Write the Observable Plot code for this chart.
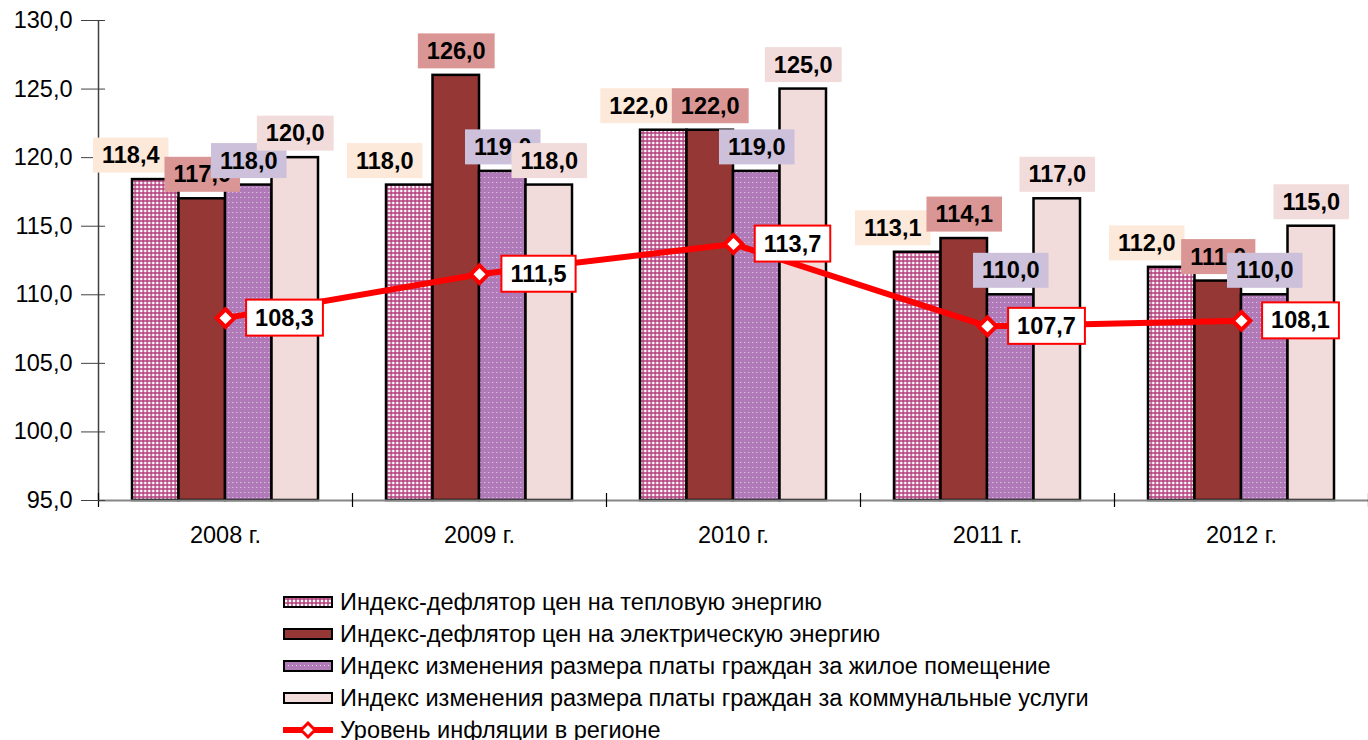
<!DOCTYPE html>
<html><head><meta charset="utf-8">
<script src="https://cdn.jsdelivr.net/npm/d3@7"></script>
<script src="https://cdn.jsdelivr.net/npm/@observablehq/plot@0.6"></script>
<style>
body{margin:0;background:#fff;font-family:"Liberation Sans",Arial,sans-serif;}
#chart svg{display:block}
#legend{padding-left:283px;margin-top:26px;}
.item{display:flex;align-items:center;height:32px;font-size:23.5px;color:#000;white-space:nowrap}
.item svg{margin-right:7px;flex:none}
</style></head><body>
<div id="chart"></div><div id="legend"></div>
<script>
const years = ["2008 г.","2009 г.","2010 г.","2011 г.","2012 г."];
const heat = [118.4,118.0,122.0,113.1,112.0];
const elec = [117.0,126.0,122.0,114.1,111.0];
const housing = [118.0,119.0,119.0,110.0,110.0];
const communal = [120.0,118.0,125.0,117.0,115.0];
const inflation = [108.3,111.5,113.7,107.7,108.1];
const yTicks = [95,100,105,110,115,120,125,130];
const seriesNames = [
  "Индекс-дефлятор цен на тепловую энергию",
  "Индекс-дефлятор цен на электрическую энергию",
  "Индекс изменения размера платы граждан за жилое помещение",
  "Индекс изменения размера платы граждан за коммунальные услуги",
  "Уровень инфляции в регионе"
];

const fmt = v => d3.format(".1f")(v).replace(".", ",");
const rows = years.map((year,i)=>({year, heat:heat[i], elec:elec[i], housing:housing[i], communal:communal[i], inflation:inflation[i]}));

const W = 1368, H = 560, ML = 98, MR = 0, MT = 20, MB = 60;
const BAND = (W-ML-MR)/years.length;
const BW = 46.5, INSET = (BAND-BW)/2;
const FS = 23.5;
const styles = [
  {key:"heat", fill:"url(#pHeat)", box:"#fde9d9", ldx:-25},
  {key:"elec", fill:"#953735", box:"#da9694", ldx:0},
  {key:"housing", fill:"url(#pHousing)", box:"#ccc0da", ldx:0},
  {key:"communal", fill:"#f2dcdb", box:"#f2dcdb", ldx:0}
];

const marks = [];
styles.forEach((s,k)=>marks.push(Plot.barY(rows,{x:"year", y1:95, y2:s.key, fill:s.fill, stroke:"#000", strokeWidth:2.5, insetLeft:INSET, insetRight:INSET, dx:(k-1.5)*BW})));
marks.push(Plot.ruleY([95],{stroke:"#868686", strokeWidth:2}));
marks.push(Plot.ruleX([years[0]],{y1:95, y2:130, dx:-BAND/2, stroke:"#404040", strokeWidth:1.5}));
marks.push(Plot.ruleX(years,{y1:95, y2:95, insetTop:-7, insetBottom:-7, dx:-BAND/2, stroke:"#000", strokeWidth:1.2}));
marks.push(Plot.ruleX([years[years.length-1]],{y1:95, y2:95, insetTop:-7, insetBottom:-7, dx:BAND/2, stroke:"#000", strokeWidth:1.2}));
marks.push(Plot.axisY({ticks:yTicks, tickFormat:fmt, tickSize:24, tickPadding:9, dx:7, label:null, fontSize:FS, stroke:"#404040"}));
marks.push(Plot.axisX({tickSize:0, tickPadding:26, label:null, fontSize:FS}));
marks.push(Plot.line(rows,{x:"year", y:"inflation", stroke:"#ff0000", strokeWidth:6}));
marks.push(Plot.dot(rows,{x:"year", y:"inflation", symbol:"diamond2", r:8, fill:"#fff", stroke:"#ff0000", strokeWidth:4}));
styles.forEach((s,k)=>marks.push(Plot.text(rows,{x:"year", y:s.key, text:d=>fmt(d[s.key]), dx:(k-1.5)*BW + s.ldx, dy:-24, fontSize:FS, fontWeight:"bold", fill:"#000"})));
marks.push(Plot.text(rows,{x:"year", y:"inflation", text:d=>fmt(d.inflation), dx:59, fontSize:FS, fontWeight:"bold", fill:"#000"}));

const chart = Plot.plot({
  width:W, height:H, marginLeft:ML, marginRight:MR, marginTop:MT, marginBottom:MB,
  style:{fontFamily:"'Liberation Sans', Arial, sans-serif", fontSize:FS+"px", color:"#000", background:"#fff", overflow:"visible"},
  x:{domain:years, padding:0},
  y:{domain:[95,130]},
  marks
});
document.getElementById("chart").appendChild(chart);

const NS = "http://www.w3.org/2000/svg";
const defs = document.createElementNS(NS,"defs");
defs.innerHTML = `
<pattern id="pHeat" width="4" height="4" patternUnits="userSpaceOnUse">
  <rect width="4" height="4" fill="#fff"/>
  <rect x="0" y="0" width="2" height="4" fill="#b23c7c" fill-opacity="0.75"/>
  <rect x="0" y="0" width="4" height="2" fill="#b23c7c" fill-opacity="0.75"/>
</pattern>
<pattern id="pHousing" width="4" height="5" patternUnits="userSpaceOnUse">
  <rect width="4" height="5" fill="#b07ab8"/>
  <rect x="1" y="2" width="1" height="1" fill="#ead4ee"/>
</pattern>`;
chart.insertBefore(defs, chart.firstChild);

const boxStyles = [...styles.map(s=>({fill:s.box, stroke:"none", sw:0, px:9, py:4.5})), {fill:"#fff", stroke:"#ff0000", sw:2, px:9, py:5}];
const groups = [...chart.querySelectorAll('g[aria-label="text"]')];
groups.forEach((g,gi)=>{
  const st = boxStyles[gi];
  g.querySelectorAll("text").forEach(t=>{
    const b = t.getBBox();
    const r = document.createElementNS(NS,"rect");
    r.setAttribute("x", b.x-st.px); r.setAttribute("y", b.y-st.py);
    r.setAttribute("width", b.width+2*st.px); r.setAttribute("height", b.height+2*st.py);
    r.setAttribute("fill", st.fill); r.setAttribute("stroke", st.stroke); r.setAttribute("stroke-width", st.sw);
    if (t.getAttribute("transform")) r.setAttribute("transform", t.getAttribute("transform"));
    g.insertBefore(r, t);
  });
});

const legend = document.getElementById("legend");
const swatchFills = ["url(#pHeat)","#953735","url(#pHousing)","#f2dcdb"];
seriesNames.forEach((name,i)=>{
  const item = document.createElement("div"); item.className = "item";
  let sw;
  if (i < 4) {
    sw = `<svg width="50" height="16"><rect x="1" y="3" width="48" height="10" fill="${swatchFills[i]}" stroke="#000" stroke-width="2"/></svg>`;
  } else {
    sw = `<svg width="50" height="20"><line x1="0" x2="50" y1="10" y2="10" stroke="#ff0000" stroke-width="6"/><path d="M25,3L32,10L25,17L18,10Z" fill="#fff" stroke="#ff0000" stroke-width="3"/></svg>`;
  }
  item.innerHTML = sw + `<span>${name}</span>`;
  legend.appendChild(item);
});
</script>
</body></html>
